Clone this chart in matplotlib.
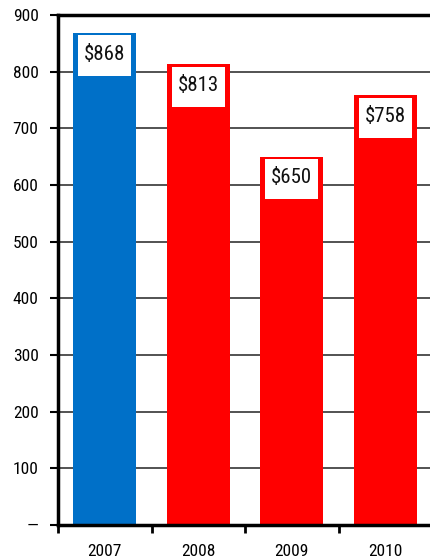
import matplotlib.pyplot as plt

# chart data
years = ["2007", "2008", "2009", "2010"]
values = [868, 813, 650, 758]
colors = ["#0070C8", "#FF0000", "#FF0000", "#FF0000"]
yticks = [0, 100, 200, 300, 400, 500, 600, 700, 800, 900]
ytick_labels = ["\u2014"] + [str(v) for v in yticks[1:]]

plt.rcParams['font.family'] = ["Roboto Condensed", "DejaVu Sans"]

fig = plt.figure(figsize=(4.3, 5.6), dpi=100)
ax = fig.add_axes([58 / 430, 35 / 560, 374 / 430, 510 / 560])

x = list(range(len(years)))
ax.bar(x, values, width=0.67, color=colors, zorder=2)
# white label boxes inside the top of each bar
box_h = 71
ax.bar(x, [box_h] * len(values), bottom=[v - box_h - 4 for v in values],
       width=0.57, color="white", zorder=3)
for xi, v in zip(x, values):
    ax.text(xi, v - 4 - box_h / 2 + 2, "\\$%d" % v, ha="center", va="center",
            fontsize=15, color="#111111", zorder=4)

ax.set_xlim(-0.5, 3.5)
ax.set_ylim(0, 900)
ax.set_yticks(yticks)
ax.set_yticklabels(ytick_labels, fontsize=12.5)
ax.set_xticks(x)
ax.set_xticklabels(years, fontsize=12.5)
ax.set_xticks([i - 0.5 for i in range(len(years) + 1)], minor=True)
ax.tick_params(axis="x", which="major", length=0, pad=14)
ax.tick_params(axis="x", which="minor", length=6, width=2, direction="out")
ax.tick_params(axis="y", length=6, width=1.5, direction="out", pad=8)

ax.grid(axis="y", color="#444444", linewidth=1.3, zorder=1)
ax.set_axisbelow(True)
for s in ["left", "bottom", "top"]:
    ax.spines[s].set_linewidth(2.5)
ax.spines["right"].set_visible(False)

fig.savefig("out.png", dpi=100)
